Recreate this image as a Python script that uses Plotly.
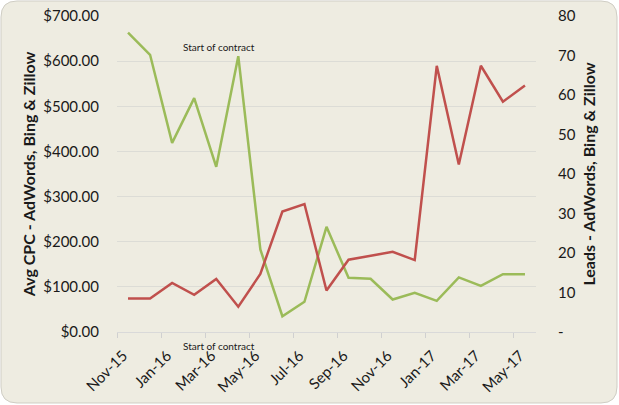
import plotly.graph_objects as go

# monthly categories, Nov-15 .. May-17
months = ["Nov-15", "Dec-15", "Jan-16", "Feb-16", "Mar-16", "Apr-16", "May-16",
          "Jun-16", "Jul-16", "Aug-16", "Sep-16", "Oct-16", "Nov-16", "Dec-16",
          "Jan-17", "Feb-17", "Mar-17", "Apr-17", "May-17"]

# Avg CPC (left axis, $)
avg_cpc = [663, 614, 419, 518, 366, 611, 183, 35, 67, 233,
           120, 118, 72, 87, 69, 121, 102, 128, 128]

# Leads (right axis)
leads = [8.5, 8.5, 12.4, 9.4, 13.4, 6.4, 14.7, 30.5, 32.4, 10.5,
         18.3, 19.3, 20.3, 18.2, 67.4, 42.4, 67.4, 58.3, 62.4]

cpc_ticks = [0, 100, 200, 300, 400, 500, 600, 700]
cpc_labels = ["$%.2f" % v for v in cpc_ticks]
lead_ticks = [0, 10, 20, 30, 40, 50, 60, 70, 80]
lead_labels = ["-"] + [str(v) for v in lead_ticks[1:]]

BG = "#EEECE1"
FONT = "Lato"
W, H = 619, 405
ML, MR, MT, MB = 117, 83, 16, 73


def card_path(x0, y0, x1, y1, r):
    # rounded rectangle in pixels -> paper coords
    pw, ph = W - ML - MR, H - MT - MB
    px = lambda x: (x - ML) / pw
    py = lambda y: (H - MB - y) / ph
    pts = [("M", x0 + r, y0), ("L", x1 - r, y0), ("Q", x1, y0, x1, y0 + r),
           ("L", x1, y1 - r), ("Q", x1, y1, x1 - r, y1), ("L", x0 + r, y1),
           ("Q", x0, y1, x0, y1 - r), ("L", x0, y0 + r), ("Q", x0, y0, x0 + r, y0)]
    s = ""
    for p in pts:
        cmd, vals = p[0], p[1:]
        coords = []
        for i in range(0, len(vals), 2):
            coords.append("%.5f,%.5f" % (px(vals[i]), py(vals[i + 1])))
        s += cmd + " ".join(coords) + " "
    return s + "Z"


fig = go.Figure()

fig.add_trace(go.Scatter(
    x=months, y=avg_cpc, mode="lines", name="Avg CPC",
    line=dict(color="#9BBB59", width=2.5),
    yaxis="y"
))
fig.add_trace(go.Scatter(
    x=months, y=leads, mode="lines", name="Leads",
    line=dict(color="#C0504D", width=2.5),
    yaxis="y2"
))

fig.add_shape(type="path", xref="paper", yref="paper", layer="below",
              path=card_path(1, 1, 617, 403, 16),
              fillcolor=BG, line=dict(color="#cfcdc4", width=1))

# the two "Start of contract" labels
fig.add_annotation(text="Start of contract", xref="paper", yref="paper",
                   x=0.243, y=0.902, xanchor="center", yanchor="middle",
                   showarrow=False, font=dict(size=10, color="#1a1a1a", family=FONT))
fig.add_annotation(text="Start of contract", xref="paper", yref="paper",
                   x=0.243, y=-0.044, xanchor="center", yanchor="middle",
                   showarrow=False, font=dict(size=10, color="#1a1a1a", family=FONT))

fig.update_layout(
    width=W, height=H,
    margin=dict(l=ML, r=MR, t=MT, b=MB, autoexpand=False),
    paper_bgcolor="white", plot_bgcolor=BG,
    showlegend=False,
    font=dict(family=FONT, color="#1a1a1a"),
    xaxis=dict(
        type="category", tickangle=-45, dtick=2, automargin=False,
        tickson="boundaries", ticks="outside", ticklen=5, tickcolor="#d0d0d0",
        showgrid=False, showline=True, linecolor="#d9d9d9", linewidth=1,
        tickfont=dict(size=15), range=[-0.5, 18.5],
        ticklabelstandoff=8, ticklabelshift=-5
    ),
    yaxis=dict(
        range=[0, 700], tickvals=cpc_ticks, ticktext=cpc_labels, automargin=False,
        showgrid=True, gridcolor="#dcdcd6", gridwidth=1, zeroline=False,
        tickfont=dict(size=15), ticks="outside", ticklen=14, tickcolor=BG,
        title=dict(text="<b>Avg CPC - AdWords, Bing & Zillow</b>",
                   font=dict(size=16), standoff=3)
    ),
    yaxis2=dict(
        range=[0, 80], tickvals=lead_ticks, ticktext=lead_labels, automargin=False,
        overlaying="y", side="right", showgrid=False, zeroline=False,
        tickfont=dict(size=15), ticks="outside", ticklen=18, tickcolor=BG,
        title=dict(text="<b>Leads - AdWords, Bing & Zillow</b>",
                   font=dict(size=16), standoff=9)
    ),
)

fig.write_html("out.html", config={"displayModeBar": False},
               post_script="document.body.style.margin='0';")
